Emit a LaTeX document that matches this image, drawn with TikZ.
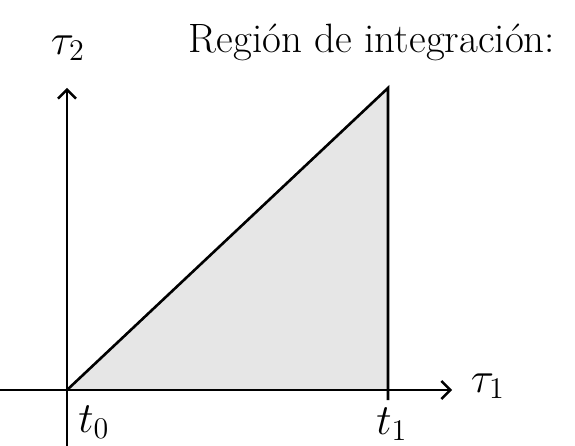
\documentclass[tikz,border=0pt]{standalone}
\usepackage{fontspec}
\setmainfont{Latin Modern Roman}
\usetikzlibrary{arrows.meta}
\definecolor{regfill}{HTML}{E6E6E6}
\newcommand{\biglbl}[1]{\scalebox{2.5}{\LARGE $#1$}}
\begin{document}
\begin{tikzpicture}[x=1pt,y=-1pt,
  axis/.style={line width=2.6pt,-{Straight Barb[length=9pt,width=18pt,line width=2.4pt]}},
  edge/.style={line width=2.6pt},
  lbl/.style={inner sep=0pt}]
\useasboundingbox (0,0) rectangle (575,446);
\coordinate (O) at (67,390);
\coordinate (A) at (388,88);
\coordinate (B) at (388,390);
\coordinate (xs) at (0,390);
\coordinate (xe) at (452,390);
\coordinate (ys) at (67,446);
\coordinate (ye) at (67,88);
\fill[regfill] (O) -- (A) -- (B) -- cycle;
\draw[axis] (xs) -- (xe);
\draw[axis] (ys) -- (ye);
\draw[edge] (O) -- (A) -- (B) -- ++(0,10);
\node[lbl] (tau2) at (68,48) {\biglbl{\tau_2}};
\node[lbl] (tau1) at (488,386) {\biglbl{\tau_1}};
\node[lbl] (t0) at (94,422) {\biglbl{t_0}};
\node[lbl] (t1) at (392,424) {\biglbl{t_1}};
\node[lbl,font=\fontsize{41}{48}\selectfont] (title) at (372,42) {Región de integración:};
\end{tikzpicture}
\end{document}
